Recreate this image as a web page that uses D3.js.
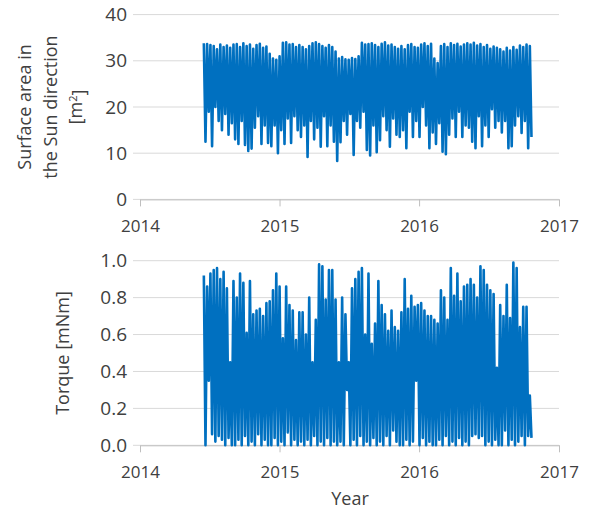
<!DOCTYPE html>
<html>
<head>
<meta charset="utf-8">
<title>surface area and torque</title>
<script src="https://cdn.jsdelivr.net/npm/d3@7"></script>
<style>
body {margin:0;background:#fff;}
svg text {font-family:"Open Sans",sans-serif;fill:#404040;}
</style>
</head>
<body>
<svg id="chart" width="590" height="510"></svg>
<script>
// ticks
var yearTicks = [2014, 2015, 2016, 2017];
var areaTicks = [0, 10, 20, 30, 40];
var torqueTicks = [0, 0.2, 0.4, 0.6, 0.8, 1.0];

// first and last sample of the series (mid June 2014 .. late Oct 2016)
var startDate = new Date(2014, 5, 17);
var endDate = new Date(2016, 9, 21);

// surface area in the Sun direction [m2]
var surfaceArea = [
  33.8, 12.5, 33.6, 19, 33.4, 11.5, 33.2, 20, 32.5, 17, 33.5, 15, 33.0, 18.5, 33.3, 14, 32.8, 16.5, 33.5, 13,
  33.6, 12, 33.0, 17, 33.8, 11.8, 33.2, 10.5, 33.5, 11, 32.6, 15.5, 33.4, 18, 33.7, 12, 32.8, 16, 33.1, 12.2,
  31.5, 11.5, 30.5, 16, 30.2, 10, 31.0, 15, 33.9, 12, 34.0, 17.5, 33.5, 12.2, 33.6, 18, 33.0, 15, 33.4, 13.5,
  33.0, 16, 32.5, 9.2, 33.2, 17, 33.8, 13, 34.0, 15.5, 33.6, 11.4, 33.2, 18, 32.8, 11.5, 33.4, 16, 33.0, 12.5,
  32.0, 8.3, 30.5, 12.4, 30.8, 17, 30.3, 14, 30.2, 18.5, 30.6, 9.6, 30.4, 17, 31.0, 15.5, 33.9, 19, 33.5, 10.7,
  33.6, 9.5, 33.8, 16, 33.4, 10.2, 33.0, 12.8, 33.7, 18, 34.0, 15, 33.3, 11.4, 33.5, 17.5, 33.0, 14, 32.6, 13.5,
  33.2, 15, 32.5, 11.1, 33.4, 19, 33.6, 13.5, 33.0, 17, 32.8, 13.5, 33.5, 20, 33.8, 16, 33.2, 11.1, 33.7, 14.5,
  30.5, 12, 29.5, 16.5, 33.2, 10.3, 33.6, 9.8, 33.0, 14, 33.8, 17.5, 33.4, 13.5, 33.7, 19, 33.1, 13.5, 33.5, 16,
  33.8, 15.5, 33.5, 12.5, 33.9, 11.1, 33.3, 18, 33.6, 11.5, 33.0, 16, 33.4, 13.5, 32.6, 19.5, 33.1, 15.5, 32.8, 17,
  32.5, 14.5, 32.0, 17, 32.8, 11.1, 32.2, 11.5, 33.0, 16, 32.4, 18, 33.3, 14.4, 33.0, 17, 33.5, 11.1, 33.2, 13.5
];

// torque [mNm]
var torque = [
  0.92, 0.0, 0.86, 0.35, 0.93, 0.06, 0.95, 0.02, 0.96, 0.05, 0.90, 0.03, 0.94, 0.0, 0.85, 0.04, 0.45, 0.0, 0.89, 0.0,
  0.80, 0.03, 0.93, 0.0, 0.88, 0.05, 0.61, 0.0, 0.89, 0.02, 0.71, 0.0, 0.73, 0.06, 0.74, 0.0, 0.70, 0.03, 0.77, 0.0,
  0.78, 0.0, 0.84, 0.04, 0.93, 0.0, 0.86, 0.02, 0.58, 0.0, 0.86, 0.07, 0.76, 0.0, 0.73, 0.03, 0.57, 0.0, 0.72, 0.02,
  0.72, 0.0, 0.60, 0.03, 0.80, 0.0, 0.45, 0.05, 0.68, 0.0, 0.98, 0.02, 0.97, 0.0, 0.79, 0.04, 0.95, 0.0, 0.95, 0.02,
  0.79, 0.0, 0.45, 0.02, 0.80, 0.0, 0.71, 0.30, 0.45, 0.0, 0.85, 0.03, 0.90, 0.0, 0.94, 0.05, 0.96, 0.0, 0.60, 0.02,
  0.93, 0.0, 0.55, 0.04, 0.66, 0.0, 0.89, 0.02, 0.76, 0.0, 0.71, 0.05, 0.62, 0.0, 0.73, 0.08, 0.64, 0.02, 0.62, 0.0,
  0.72, 0.0, 0.90, 0.03, 0.74, 0.0, 0.81, 0.02, 0.75, 0.35, 0.76, 0.0, 0.77, 0.04, 0.73, 0.0, 0.70, 0.02, 0.70, 0.0,
  0.68, 0.0, 0.66, 0.03, 0.84, 0.0, 0.80, 0.05, 0.68, 0.0, 0.96, 0.02, 0.81, 0.0, 0.93, 0.04, 0.78, 0.0, 0.86, 0.02,
  0.87, 0.0, 0.90, 0.05, 0.87, 0.06, 0.80, 0.04, 0.97, 0.05, 0.95, 0.0, 0.87, 0.02, 0.84, 0.0, 0.82, 0.03, 0.42, 0.0,
  0.76, 0.0, 0.70, 0.08, 0.87, 0.0, 0.69, 0.03, 0.99, 0.0, 0.96, 0.02, 0.64, 0.05, 0.75, 0.0, 0.75, 0.05, 0.27, 0.04
];

var svg = d3.select("#chart");

var x = d3.scaleTime()
    .domain([new Date(2014, 0, 1), new Date(2017, 0, 1)])
    .range([140, 559]);

function sampleDates(n) {
    var step = (endDate - startDate) / (n - 1);
    return d3.range(n).map(function(i) { return new Date(+startDate + i * step); });
}

function drawPanel(values, ticks, yRange, fmt, titleLines, titleX) {
    var y = d3.scaleLinear().domain([ticks[0], ticks[ticks.length - 1]]).range(yRange);
    var g = svg.append("g");

    // gridlines
    g.selectAll(".grid").data(ticks).enter().append("line")
        .attr("x1", 133).attr("x2", 559)
        .attr("y1", function(d) { return y(d); }).attr("y2", function(d) { return y(d); })
        .attr("stroke", "#d9d9d9").attr("stroke-width", 1);

    // y tick labels
    g.append("g").attr("transform", "translate(140,0)")
        .call(d3.axisLeft(y).tickValues(ticks).tickFormat(fmt).tickSize(0).tickPadding(13))
        .call(function(a) { a.select(".domain").remove(); })
        .selectAll("text").style("font-size", "19px").attr("fill", "#404040");

    // x axis
    var xa = g.append("g").attr("transform", "translate(0," + yRange[0] + ")")
        .call(d3.axisBottom(x)
            .tickValues(yearTicks.map(function(yr) { return new Date(yr, 0, 1); }))
            .tickFormat(d3.timeFormat("%Y")).tickSize(7).tickSizeOuter(0).tickPadding(14));
    xa.select(".domain").attr("stroke", "#bfbfbf");
    xa.selectAll(".tick line").attr("stroke", "#bfbfbf");
    xa.selectAll("text").style("font-size", "17px").attr("fill", "#404040");

    // series
    var dates = sampleDates(values.length);
    var line = d3.line()
        .x(function(d, i) { return x(dates[i]); })
        .y(function(d) { return y(d); });
    g.append("path").datum(values)
        .attr("d", line)
        .attr("fill", "none")
        .attr("stroke", "#0070c0")
        .attr("stroke-width", 2.6)
        .attr("stroke-linejoin", "round");

    // rotated axis title
    var cy = (yRange[0] + yRange[1]) / 2;
    var t = g.append("text")
        .attr("transform", "translate(" + titleX + "," + cy + ") rotate(-90)")
        .attr("text-anchor", "middle")
        .style("font-size", "18px");
    titleLines.forEach(function(ln, i) {
        var ts = t.append("tspan").attr("x", 0).attr("dy", i == 0 ? 0 : "1.42em");
        if (ln == "[m2]") {
            ts.text("[m");
            ts.append("tspan").attr("dy", "-0.45em").style("font-size", "11px").text("2");
            ts.append("tspan").attr("dy", "0.45em").text("]");
        } else {
            ts.text(ln);
        }
    });
    return g;
}

drawPanel(surfaceArea, areaTicks, [199.4, 14.6], d3.format("d"),
    ["Surface area in", "the Sun direction", "[m2]"], 31);
drawPanel(torque, torqueTicks, [445.3, 260.7], d3.format(".1f"),
    ["Torque [mNm]"], 69);

svg.append("text")
    .attr("x", 350).attr("y", 505)
    .attr("text-anchor", "middle")
    .style("font-size", "18px")
    .text("Year");
</script>
</body>
</html>
